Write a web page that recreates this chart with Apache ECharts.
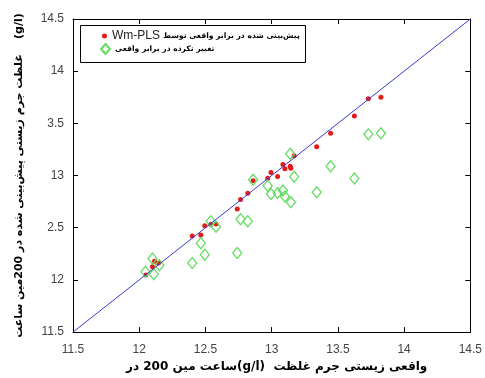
<!DOCTYPE html>
<html>
<head>
<meta charset="utf-8">
<script src="https://cdn.jsdelivr.net/npm/echarts@6.0.0/dist/echarts.min.js"></script>
<style>
html,body{margin:0;padding:0;background:#fff;}
#chart{width:485px;height:378px;}
</style>
</head>
<body>
<div id="chart"></div>
<script>
// محور ها
var xTicks = ['11.5', '12', '12.5', '13', '13.5', '14', '14.5'];
var yTicks = ['11.5', '12', '2.5', '13', '3.5', '14', '14.5'];
var diagX = [11.5, 14.5];
var diagY = [11.5, 14.5];

// Wm-PLS پیش بینی
var predX = [12.05, 12.10, 12.115, 12.145, 12.40, 12.465, 12.495, 12.54, 12.58, 12.74, 12.765, 12.82, 12.86,
             12.97, 12.995, 13.045, 13.085, 13.10, 13.14, 13.145, 13.17, 13.34, 13.445, 13.625, 13.73, 13.825];
var predY = [12.047, 12.125, 12.18, 12.163, 12.42, 12.43, 12.52, 12.53, 12.535, 12.68, 12.77, 12.83, 12.95,
             12.975, 13.03, 12.99, 13.105, 13.065, 13.09, 13.07, 13.19, 13.275, 13.405, 13.57, 13.735, 13.75];

// تغییر نکرده
var rawX = [12.047, 12.10, 12.11, 12.152, 12.40, 12.465, 12.495, 12.54, 12.58, 12.74, 12.765, 12.82, 12.86,
            12.97, 12.995, 13.045, 13.085, 13.10, 13.14, 13.145, 13.17, 13.34, 13.445, 13.625, 13.73, 13.825];
var rawY = [12.078, 12.205, 12.054, 12.14, 12.163, 12.352, 12.242, 12.563, 12.51, 12.258, 12.582, 12.563, 12.96,
            12.903, 12.824, 12.833, 12.856, 12.80, 13.208, 12.745, 12.988, 12.84, 13.09, 12.972, 13.396, 13.405];

var predName = 'پیش‌بینی شده در برابر واقعی توسط Wm-PLS';
var rawName = 'تغییر نکرده در برابر واقعی';

// هر کلمه جدا، از چپ به راست (مثل شکل اصلی)
var L = '\u200E';
var xName = 'در' + L + ' ' + L + '200' + L + ' ' + L + 'مین' + L + ' ' + L + 'ساعت' + L + '(g/l)' + L + '  ' + L +
    'غلظت' + L + ' ' + L + 'جرم' + L + ' ' + L + 'زیستی' + L + ' ' + L + 'واقعی';
var yName = 'غلظت جرم زیستی پیش‌بینی شده در 200مین ساعت' + '    (g/l)';

function pairs(xs, ys) {
    var out = [];
    for (var i = 0; i < xs.length; i++) out.push([xs[i], ys[i]]);
    return out;
}

var myChart = echarts.init(document.getElementById('chart'));
var tickStyle = {show: true, inside: true, length: 5, lineStyle: {color: '#000', width: 1}};
var lineStyle = {show: true, onZero: false, lineStyle: {color: '#000', width: 1}};
var labelStyle = {color: '#444', fontSize: 12, fontFamily: 'Liberation Sans, Arial, sans-serif'};
var faRich = {
    en: {fontSize: 12, color: '#222', fontFamily: 'Liberation Sans, Arial, sans-serif'},
    fa: {fontSize: 7.6, fontWeight: 'bold', color: '#000', fontFamily: 'DejaVu Sans'}
};

var option = {
    backgroundColor: '#fff',
    animation: false,
    grid: {left: 73, right: 12, top: 19, bottom: 41},
    graphic: [{
        type: 'rect', left: 80, top: 25, z: 5,
        shape: {width: 225, height: 37},
        style: {fill: '#fff', stroke: '#000', lineWidth: 1}
    }],
    legend: [{
        orient: 'vertical', left: 102, top: 30, z: 10,
        itemWidth: 5, itemHeight: 5, itemGap: 0, padding: 0,
        data: [{name: predName, icon: 'circle'}],
        formatter: function () {
            return '{en|Wm-PLS} {fa|' + 'پیش‌بینی شده در برابر واقعی توسط' + '}';
        },
        textStyle: {rich: faRich}
    }, {
        orient: 'vertical', left: 100, top: 43, z: 10,
        itemWidth: 9, itemHeight: 10, itemGap: 0, padding: 0,
        data: [{name: rawName, icon: 'diamond'}],
        formatter: function (name) { return '{fa|' + name + '}'; },
        textStyle: {rich: faRich}
    }],
    xAxis: [{
        type: 'value', min: 11.5, max: 14.5, interval: 0.5, position: 'bottom',
        axisLine: lineStyle, axisTick: tickStyle, splitLine: {show: false},
        axisLabel: Object.assign({margin: 12, formatter: function (v) { return xTicks[Math.round((v - 11.5) / 0.5)]; }}, labelStyle),
        name: xName, nameLocation: 'middle', nameGap: 28,
        nameTextStyle: {fontSize: 12, fontWeight: 'bold', color: '#000', fontFamily: 'DejaVu Sans', padding: [0, 0, 0, 10]}
    }, {
        type: 'value', min: 11.5, max: 14.5, interval: 0.5, position: 'top',
        axisLine: lineStyle, axisTick: tickStyle, splitLine: {show: false}, axisLabel: {show: false}
    }],
    yAxis: [{
        type: 'value', min: 11.5, max: 14.5, interval: 0.5, position: 'left',
        axisLine: lineStyle, axisTick: tickStyle, splitLine: {show: false},
        axisLabel: Object.assign({margin: 9, formatter: function (v) { return yTicks[Math.round((v - 11.5) / 0.5)]; }}, labelStyle),
        name: yName, nameLocation: 'middle', nameGap: 48, nameRotate: 90,
        nameTextStyle: {fontSize: 11, fontWeight: 'bold', color: '#000', fontFamily: 'DejaVu Sans'}
    }, {
        type: 'value', min: 11.5, max: 14.5, interval: 0.5, position: 'right',
        axisLine: lineStyle, axisTick: tickStyle, splitLine: {show: false}, axisLabel: {show: false}
    }],
    series: [{
        name: 'diag', type: 'line', symbol: 'none', silent: true,
        data: pairs(diagX, diagY),
        lineStyle: {color: '#3a3ad0', width: 1}
    }, {
        name: predName, type: 'scatter', symbol: 'circle', symbolSize: 5,
        data: pairs(predX, predY),
        itemStyle: {color: '#e51a1a', opacity: 1}
    }, {
        name: rawName, type: 'scatter', symbol: 'diamond', symbolSize: [9, 11],
        data: pairs(rawX, rawY),
        itemStyle: {color: 'rgba(0,0,0,0)', borderColor: '#62dc62', borderWidth: 1.3, opacity: 1}
    }]
};
myChart.setOption(option);
</script>
</body>
</html>
